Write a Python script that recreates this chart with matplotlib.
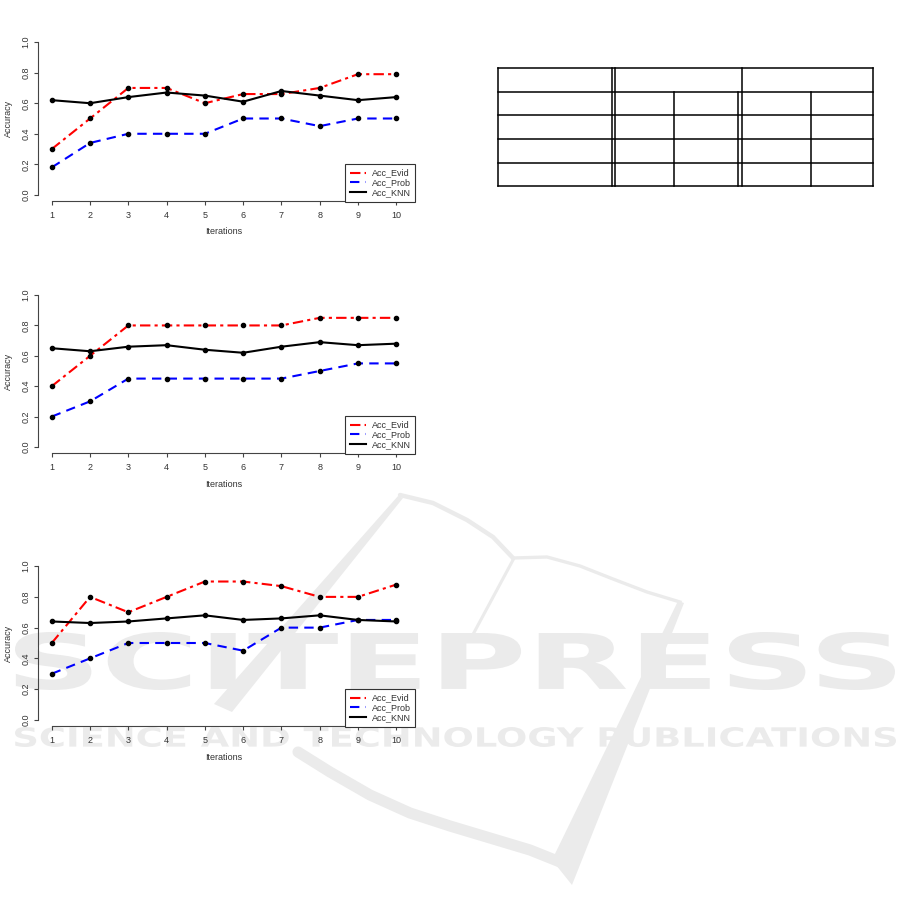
import matplotlib
matplotlib.use("Agg")
import matplotlib.pyplot as plt
from matplotlib.lines import Line2D
from matplotlib.patches import PathPatch, Polygon
from matplotlib.textpath import TextPath
from matplotlib.font_manager import FontProperties
from matplotlib.transforms import Affine2D

plt.rcParams['font.family'] = ['Liberation Sans', 'DejaVu Sans']

# data
iterations = [1, 2, 3, 4, 5, 6, 7, 8, 9, 10]

evid_1 = [0.30, 0.50, 0.70, 0.70, 0.60, 0.66, 0.66, 0.70, 0.79, 0.79]
prob_1 = [0.18, 0.34, 0.40, 0.40, 0.40, 0.50, 0.50, 0.45, 0.50, 0.50]
knn_1 = [0.62, 0.60, 0.64, 0.67, 0.65, 0.61, 0.68, 0.65, 0.62, 0.64]

evid_2 = [0.40, 0.60, 0.80, 0.80, 0.80, 0.80, 0.80, 0.85, 0.85, 0.85]
prob_2 = [0.20, 0.30, 0.45, 0.45, 0.45, 0.45, 0.45, 0.50, 0.55, 0.55]
knn_2 = [0.65, 0.63, 0.66, 0.67, 0.64, 0.62, 0.66, 0.69, 0.67, 0.68]

evid_3 = [0.50, 0.80, 0.70, 0.80, 0.90, 0.90, 0.87, 0.80, 0.80, 0.88]
prob_3 = [0.30, 0.40, 0.50, 0.50, 0.50, 0.45, 0.60, 0.60, 0.65, 0.65]
knn_3 = [0.64, 0.63, 0.64, 0.66, 0.68, 0.65, 0.66, 0.68, 0.65, 0.64]

series_names = ["Acc_Evid", "Acc_Prob", "Acc_KNN"]
y_ticks = [0.0, 0.2, 0.4, 0.6, 0.8, 1.0]

W, H = 901, 921
fig = plt.figure(figsize=(W / 100, H / 100), dpi=100)

# background layer in pixel coords (watermark + empty table)
bg = fig.add_axes([0, 0, 1, 1], zorder=0)
bg.set_xlim(0, W)
bg.set_ylim(H, 0)
bg.axis("off")

wm = "#ebebeb"


def fitted_text(s, x0, y0, x1, y1):
    fp = FontProperties(family="DejaVu Sans", weight="bold")
    tp = TextPath((0, 0), s, size=100, prop=fp)
    ext = tp.get_extents()
    tr = (Affine2D().translate(-ext.x0, -ext.y1)
          .scale((x1 - x0) / ext.width, -(y1 - y0) / ext.height)
          .translate(x0, y0))
    bg.add_patch(PathPatch(tr.transform_path(tp), fc=wm, ec="none", zorder=1))


# book outline of the logo
bg.plot([400, 433, 467, 493, 513], [495, 503, 520, 537, 558], color=wm, lw=3.2,
        solid_capstyle="round", zorder=1)
bg.plot([513, 547, 580, 613, 647, 680], [558, 557, 566, 579, 592, 602], color=wm,
        lw=2.4, zorder=1)
bg.plot([513, 470], [560, 640], color=wm, lw=2.2, zorder=1)
bg.add_patch(Polygon([(678, 601), (684, 603), (572, 885), (552, 860)], fc=wm, ec="none", zorder=1))
bg.add_patch(Polygon([(398, 496), (403, 498), (232, 712), (214, 704)], fc=wm, ec="none", zorder=1))
bg.plot([298, 330, 370, 410, 450, 490, 530, 560], [752, 772, 795, 813, 826, 838, 850, 862],
        color=wm, lw=8, solid_capstyle="round", zorder=1)

fitted_text("SCITEPRESS", 15, 632, 895, 690)
fitted_text("SCIENCE AND TECHNOLOGY PUBLICATIONS", 15, 727, 896, 747)

# empty table
row_y = [68, 92, 115, 139, 163, 186]
for yy in row_y:
    bg.plot([498, 873], [yy, yy], color="black", lw=1.1, zorder=3)
for xx in [498, 612, 615, 742, 873]:
    bg.plot([xx, xx], [68, 186], color="black", lw=1.1, zorder=3)
for xx in [674, 738, 811]:
    bg.plot([xx, xx], [92, 186], color="black", lw=1.1, zorder=3)

panels = [
    (36, 201, evid_1, prob_1, knn_1),
    (289, 453, evid_2, prob_2, knn_2),
    (560, 726, evid_3, prob_3, knn_3),
]

styles = [
    dict(color="red", ls=(0, (5, 2, 1.5, 2))),
    dict(color="blue", ls=(0, (4.5, 3))),
    dict(color="black", ls="-"),
]

left, right = 38, 410
grey = "#444444"
for top, bottom, evid, prob, knn in panels:
    ax = fig.add_axes([left / W, 1 - bottom / H, (right - left) / W, (bottom - top) / H],
                      zorder=2)
    ax.set_facecolor("none")
    for vals, st in zip([evid, prob, knn], styles):
        ax.plot(iterations, vals, color=st["color"], ls=st["ls"], lw=1.5)
        ax.plot(iterations, vals, "o", color="black", ms=3, ls="none")
    ax.set_xlim(0.64, 10.36)
    ax.set_ylim(-0.04, 1.04)
    for s in ["top", "right"]:
        ax.spines[s].set_visible(False)
    ax.spines["left"].set_bounds(0, 1)
    ax.spines["bottom"].set_bounds(1, 10)
    for s in ["left", "bottom"]:
        ax.spines[s].set_color(grey)
        ax.spines[s].set_linewidth(0.8)
    ax.set_xticks(iterations)
    ax.set_xticklabels([str(i) for i in iterations])
    ax.set_yticks(y_ticks)
    ax.set_yticklabels([f"{v:.1f}" for v in y_ticks], rotation=90, va="center")
    ax.tick_params(length=3, width=0.8, color=grey, labelcolor="#333333", labelsize=6.5,
                   pad=2.5)
    ax.tick_params(axis="x", pad=4)
    ax.set_xlabel("Iterations", fontsize=6.5, color="#333333")
    ax.set_ylabel("Accuracy", fontsize=6.5, color="#333333")
    ax.xaxis.set_label_coords(0.5, -31 / (bottom - top))
    ax.xaxis.label.set_va("center")
    ax.yaxis.set_label_coords(-30 / (right - left), 0.5)
    ax.yaxis.label.set_va("center")
    handles = [Line2D([], [], color=st["color"], ls=st["ls"], lw=1.5) for st in styles]
    leg = ax.legend(handles, series_names, loc="lower right",
                    bbox_to_anchor=(415 / W, 1 - (bottom + 1) / H),
                    bbox_transform=fig.transFigure, fontsize=6.5, frameon=True,
                    fancybox=False, framealpha=1, edgecolor="#333333",
                    handlelength=1.8, handletextpad=0.6, labelspacing=0.1,
                    borderpad=0.5, borderaxespad=0)
    leg.get_frame().set_linewidth(0.8)
    for t in leg.get_texts():
        t.set_color("#333333")

fig.savefig("out.png", dpi=100)
plt.close(fig)
